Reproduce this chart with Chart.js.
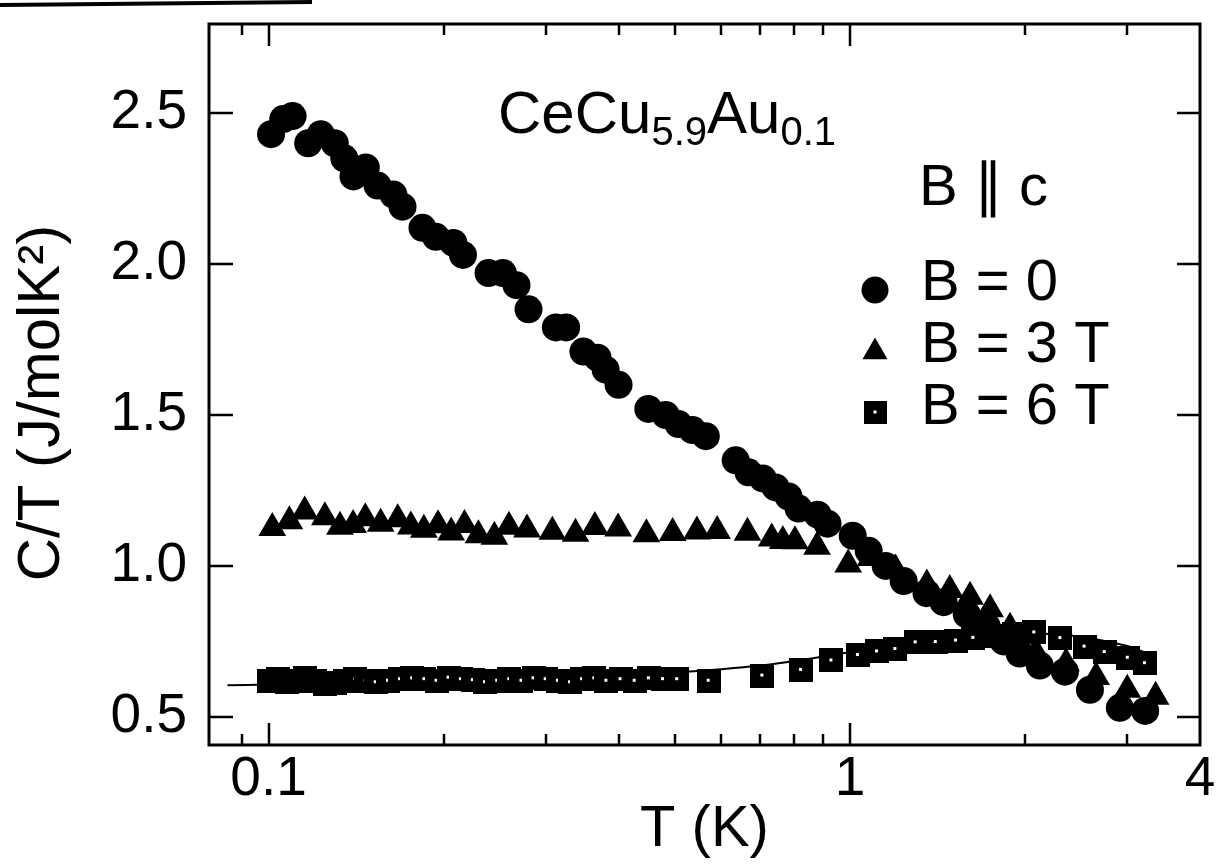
<!DOCTYPE html>
<html>
<head>
<meta charset="utf-8">
<title>CeCu5.9Au0.1 specific heat</title>
<script src="https://cdn.jsdelivr.net/npm/chart.js@4.4.1/dist/chart.umd.min.js"></script>
<style>
  html, body { margin: 0; padding: 0; background: #fff; }
  #wrap { width: 1221px; height: 865px; position: relative; }
  canvas { display: block; }
</style>
</head>
<body>
<div id="wrap"><canvas id="chart" width="1221" height="865"></canvas></div>
<script>
// C/T of CeCu5.9Au0.1 versus temperature (log scale), field along c.

// B = 0
const tempB0 = [0.101, 0.106, 0.110, 0.117, 0.123, 0.130, 0.135, 0.140, 0.147, 0.154,
                0.164, 0.170, 0.184, 0.194, 0.208, 0.216, 0.239, 0.253, 0.267, 0.280,
                0.312, 0.325, 0.348, 0.368, 0.380, 0.400, 0.450, 0.482, 0.507, 0.536,
                0.565, 0.636, 0.669, 0.708, 0.745, 0.784, 0.816, 0.880, 0.915, 1.011,
                1.077, 1.152, 1.237, 1.354, 1.449, 1.588, 1.719, 1.838, 1.958, 2.121,
                2.343, 2.587, 2.912, 3.219];
const ctB0 = [2.43, 2.48, 2.49, 2.40, 2.43, 2.40, 2.35, 2.29, 2.32, 2.26,
              2.23, 2.19, 2.12, 2.09, 2.07, 2.03, 1.97, 1.97, 1.93, 1.85,
              1.79, 1.79, 1.71, 1.69, 1.65, 1.60, 1.52, 1.50, 1.47, 1.45,
              1.43, 1.35, 1.31, 1.29, 1.26, 1.23, 1.19, 1.17, 1.14, 1.10,
              1.05, 1.00, 0.95, 0.91, 0.88, 0.84, 0.80, 0.75, 0.71, 0.67,
              0.65, 0.59, 0.53, 0.52];

// B = 3 T
const tempB3 = [0.1015, 0.1086, 0.1154, 0.125, 0.1327, 0.1398, 0.1467, 0.1559, 0.1668, 0.1757,
                0.185, 0.1957, 0.2061, 0.2173, 0.2296, 0.2446, 0.2591, 0.2783, 0.3077, 0.3373,
                0.3641, 0.3993, 0.4466, 0.4955, 0.5455, 0.591, 0.6664, 0.7336, 0.7665, 0.8043,
                0.8779, 0.9931, 1.085, 1.198, 1.356, 1.485, 1.609, 1.742, 1.885, 2.088,
                2.353, 2.651, 2.999, 3.355];
const ctB3 = [1.126, 1.148, 1.180, 1.161, 1.130, 1.136, 1.158, 1.140, 1.155, 1.131,
              1.120, 1.135, 1.111, 1.136, 1.102, 1.097, 1.130, 1.121, 1.113, 1.107,
              1.129, 1.124, 1.105, 1.109, 1.114, 1.116, 1.110, 1.091, 1.083, 1.082,
              1.064, 1.005, 1.026, 0.988, 0.939, 0.920, 0.898, 0.857, 0.795, 0.714,
              0.678, 0.632, 0.590, 0.567];

// B = 6 T
const tempB6 = [0.1000, 0.1037, 0.1075, 0.1115, 0.1156, 0.1203, 0.1252, 0.1303, 0.1356, 0.1411,
                0.1469, 0.1529, 0.1605, 0.1684, 0.1766, 0.1854, 0.1945, 0.2040, 0.2141, 0.2246,
                0.2357, 0.2473, 0.2595, 0.2723, 0.2856, 0.2997, 0.3145, 0.3300, 0.3462, 0.3633,
                0.3811, 0.4031, 0.4263, 0.4510, 0.4769, 0.5044, 0.5715, 0.7069, 0.8235, 0.9292,
                1.032, 1.113, 1.197, 1.297, 1.405, 1.522, 1.630, 1.739, 1.914, 2.075,
                2.301, 2.532, 2.743, 3.005, 3.216];
const ctB6 = [0.620, 0.625, 0.615, 0.620, 0.628, 0.620, 0.610, 0.612, 0.618, 0.625,
              0.620, 0.615, 0.620, 0.625, 0.628, 0.625, 0.620, 0.630, 0.625, 0.622,
              0.615, 0.620, 0.625, 0.620, 0.628, 0.625, 0.620, 0.615, 0.625, 0.628,
              0.620, 0.625, 0.620, 0.628, 0.625, 0.625, 0.620, 0.637, 0.656, 0.687,
              0.705, 0.717, 0.725, 0.747, 0.748, 0.753, 0.762, 0.767, 0.775, 0.780,
              0.761, 0.733, 0.715, 0.696, 0.678];

// smooth curve through the 6 T data
const tempFit6 = [0.085, 0.1, 0.15, 0.2, 0.3, 0.4, 0.5, 0.6, 0.7, 0.8, 0.9, 1.0, 1.2, 1.5, 1.8, 2.1, 2.5, 3.0, 3.2];
const ctFit6 = [0.605, 0.607, 0.612, 0.617, 0.627, 0.637, 0.647, 0.658, 0.670, 0.685, 0.700, 0.714, 0.735, 0.758, 0.772, 0.776, 0.765, 0.735, 0.715];

// axes
const xRange = [0.079, 4];
const yRange = [0.407, 2.795];
const xTickVals = [0.1, 1, 4];
const xTickLabels = ['0.1', '1', '4'];
const xMajorMarks = [0.1, 1];
const xMinorMarks = [0.09, 0.2, 0.3, 0.4, 0.5, 0.6, 0.7, 0.8, 0.9, 2, 3];
const yTickVals = [0.5, 1.0, 1.5, 2.0, 2.5];
const yTitle = 'C/T (J/molK\u00B2)';
const xTitle = 'T (K)';

const FONT = '"Liberation Sans", Arial, Helvetica, sans-serif';

const toPoints = (xs, ys) => xs.map((x, i) => ({ x: x, y: ys[i] }));

// filled square marker with a small light centre
function squareMarker(size) {
  const c = document.createElement('canvas');
  c.width = size; c.height = size;
  const g = c.getContext('2d');
  g.fillStyle = '#000';
  g.fillRect(0, 0, size, size);
  g.fillStyle = '#fff';
  const d = 3, o = Math.floor((size - d) / 2);
  g.fillRect(o, o, d, d);
  return c;
}
const squareData = squareMarker(24);
const squareKey = squareMarker(23);

// box around the plot with inward ticks on all four sides
const framePlugin = {
  id: 'frame',
  afterDatasetsDraw(chart) {
    const { ctx, chartArea: a, scales: { x, y } } = chart;
    ctx.save();
    ctx.strokeStyle = '#000';
    ctx.lineWidth = 3;
    ctx.strokeRect(a.left, a.top, a.right - a.left, a.bottom - a.top);
    ctx.lineWidth = 2.5;
    ctx.beginPath();
    yTickVals.forEach(v => {
      const py = Math.round(y.getPixelForValue(v));
      ctx.moveTo(a.left, py); ctx.lineTo(a.left + 24, py);
      ctx.moveTo(a.right, py); ctx.lineTo(a.right - 23, py);
    });
    const xMark = (v, len) => {
      const px = Math.round(x.getPixelForValue(v));
      ctx.moveTo(px, a.bottom); ctx.lineTo(px, a.bottom - len);
      ctx.moveTo(px, a.top); ctx.lineTo(px, a.top + len);
    };
    xMajorMarks.forEach(v => xMark(v, 22));
    xMinorMarks.forEach(v => xMark(v, 11));
    ctx.stroke();
    ctx.restore();
  }
};

// compound name, field direction, symbol key and the vertical axis title
const notesPlugin = {
  id: 'notes',
  afterDraw(chart) {
    const ctx = chart.ctx;
    ctx.save();
    ctx.fillStyle = '#000';
    ctx.textBaseline = 'alphabetic';
    ctx.textAlign = 'left';

    // CeCu5.9Au0.1 with subscripts
    const runs = [
      { text: 'CeCu', size: 60, dy: 0 },
      { text: '5.9', size: 40, dy: 12 },
      { text: 'Au', size: 60, dy: 0 },
      { text: '0.1', size: 40, dy: 12 }
    ];
    let cx = 498;
    runs.forEach(r => {
      ctx.font = r.size + 'px ' + FONT;
      ctx.fillText(r.text, cx, 133 + r.dy);
      cx += ctx.measureText(r.text).width;
    });

    ctx.font = '58px ' + FONT;
    ctx.fillText('B \u2225 c', 919, 205);

    const keyX = 875, textX = 921;
    // B = 0
    ctx.beginPath();
    ctx.arc(keyX, 290, 13.5, 0, Math.PI * 2);
    ctx.fill();
    ctx.fillText('B = 0', textX, 300);
    // B = 3 T
    const r = 14.5, ty = 352;
    ctx.beginPath();
    ctx.moveTo(keyX, ty - r);
    ctx.lineTo(keyX + r * Math.sin(2 * Math.PI / 3), ty - r * Math.cos(2 * Math.PI / 3));
    ctx.lineTo(keyX - r * Math.sin(2 * Math.PI / 3), ty - r * Math.cos(2 * Math.PI / 3));
    ctx.closePath();
    ctx.fill();
    ctx.fillText('B = 3 T', textX, 362);
    // B = 6 T
    ctx.drawImage(squareKey, keyX - 11.5, 412 - 11.5);
    ctx.fillText('B = 6 T', textX, 424);

    // vertical axis title
    ctx.save();
    ctx.translate(42, 403);
    ctx.rotate(-Math.PI / 2);
    ctx.textAlign = 'center';
    ctx.textBaseline = 'middle';
    ctx.font = '60px ' + FONT;
    ctx.fillText(yTitle, 0, 0);
    ctx.restore();

    // rule above the figure
    ctx.strokeStyle = '#000';
    ctx.lineWidth = 4;
    ctx.beginPath();
    ctx.moveTo(0, 5);
    ctx.lineTo(312, 2);
    ctx.stroke();
    ctx.restore();
  }
};

new Chart(document.getElementById('chart'), {
  type: 'scatter',
  data: {
    datasets: [
      {
        label: 'B = 0',
        data: toPoints(tempB0, ctB0),
        pointStyle: 'circle',
        pointRadius: 14,
        backgroundColor: '#000',
        borderWidth: 0
      },
      {
        label: 'B = 3 T',
        data: toPoints(tempB3, ctB3),
        pointStyle: 'triangle',
        pointRadius: 16,
        backgroundColor: '#000',
        borderWidth: 0
      },
      {
        label: 'B = 6 T',
        data: toPoints(tempB6, ctB6),
        pointStyle: squareData,
        pointRadius: 12,
        backgroundColor: '#000',
        borderWidth: 0
      },
      {
        label: '6 T curve',
        data: toPoints(tempFit6, ctFit6),
        showLine: true,
        pointRadius: 0,
        borderColor: '#000',
        borderWidth: 2,
        tension: 0.4,
        fill: false
      }
    ]
  },
  options: {
    responsive: false,
    animation: false,
    devicePixelRatio: 1,
    events: [],
    layout: { padding: { top: 24, right: 21, bottom: 0, left: 0 } },
    plugins: {
      legend: { display: false },
      tooltip: { enabled: false }
    },
    scales: {
      x: {
        type: 'logarithmic',
        min: xRange[0],
        max: xRange[1],
        grid: { display: false, drawTicks: false },
        border: { display: false },
        ticks: {
          autoSkip: false,
          maxRotation: 0,
          padding: 2,
          color: '#000',
          font: { family: FONT, size: 55 },
          callback: (value, index) => xTickLabels[index]
        },
        afterBuildTicks: s => { s.ticks = xTickVals.map(v => ({ value: v })); },
        afterFit: s => { s.height = 120; s.paddingLeft = 0; s.paddingRight = 0; },
        title: {
          display: true,
          text: xTitle,
          color: '#000',
          font: { family: FONT, size: 58 },
          padding: { top: 0, bottom: 0 }
        }
      },
      y: {
        type: 'linear',
        min: yRange[0],
        max: yRange[1],
        grid: { display: false, drawTicks: false },
        border: { display: false },
        ticks: {
          padding: 22,
          color: '#000',
          font: { family: FONT, size: 55 },
          callback: v => Number(v).toFixed(1)
        },
        afterBuildTicks: s => { s.ticks = yTickVals.map(v => ({ value: v })); },
        afterFit: s => { s.width = 209; s.paddingTop = 0; s.paddingBottom = 0; },
        title: { display: false }
      }
    }
  },
  plugins: [framePlugin, notesPlugin]
});
</script>
</body>
</html>
